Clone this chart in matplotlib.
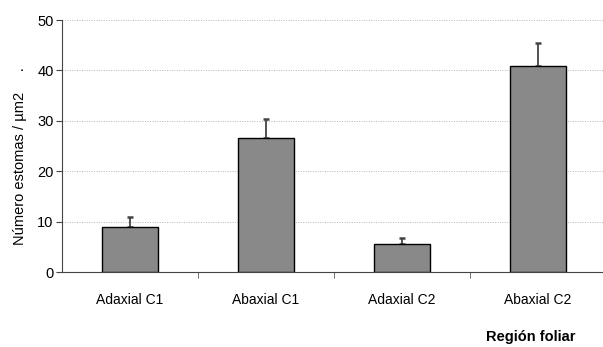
import matplotlib
matplotlib.use("Agg")
from matplotlib import pyplot as plt
import numpy as np

plt.rcParams['font.family'] = ['Liberation Sans', 'DejaVu Sans']

categories = ["Adaxial C1", "Abaxial C1", "Adaxial C2", "Abaxial C2"]
values = [9.0, 26.6, 5.5, 40.9]
errors = [2.0, 3.8, 1.3, 4.6]

fig = plt.figure(figsize=(6.03, 3.47), dpi=100)
ax = fig.add_axes([62 / 603, 1 - 272 / 347, 541 / 603, 252 / 347])

x = np.arange(len(categories))
ax.bar(x, values, width=0.41, color="#898989", edgecolor="black", linewidth=1.0, zorder=3)
ax.errorbar(x, values, yerr=[np.zeros(len(errors)), errors], fmt="none",
            ecolor="#444444", elinewidth=1.3, capsize=2.4, capthick=1.8, zorder=2)

ax.set_ylim(0, 50)
ax.set_xlim(-0.5, 3.5 - 3 / 136)
ax.set_yticks([0, 10, 20, 30, 40, 50])
ax.yaxis.grid(True, linestyle=(0, (1, 1.5)), color="#b5b5b5", linewidth=0.7, zorder=0)
ax.set_xticks(x)
ax.set_xticklabels(categories, fontsize=10)
ax.set_xticks([0.5, 1.5, 2.5], minor=True)
ax.tick_params(axis="x", which="major", length=0, pad=15)
ax.tick_params(axis="x", which="minor", length=4, color="#555555")
ax.tick_params(axis="y", labelsize=10.5, length=4, pad=2, color="#444444")

for s in ["top", "right"]:
    ax.spines[s].set_visible(False)
ax.spines["left"].set_color("#444444")
ax.spines["bottom"].set_color("#444444")

fig.text(20 / 603, 1 - 156 / 347, "Número estomas / µm2     .", rotation=90,
         ha="center", va="center", fontsize=10.5)
fig.text(531 / 603, 1 - 337 / 347, "Región foliar", ha="center", va="center",
         fontsize=10.5, fontweight="bold")

fig.savefig("out.png", dpi=100)
